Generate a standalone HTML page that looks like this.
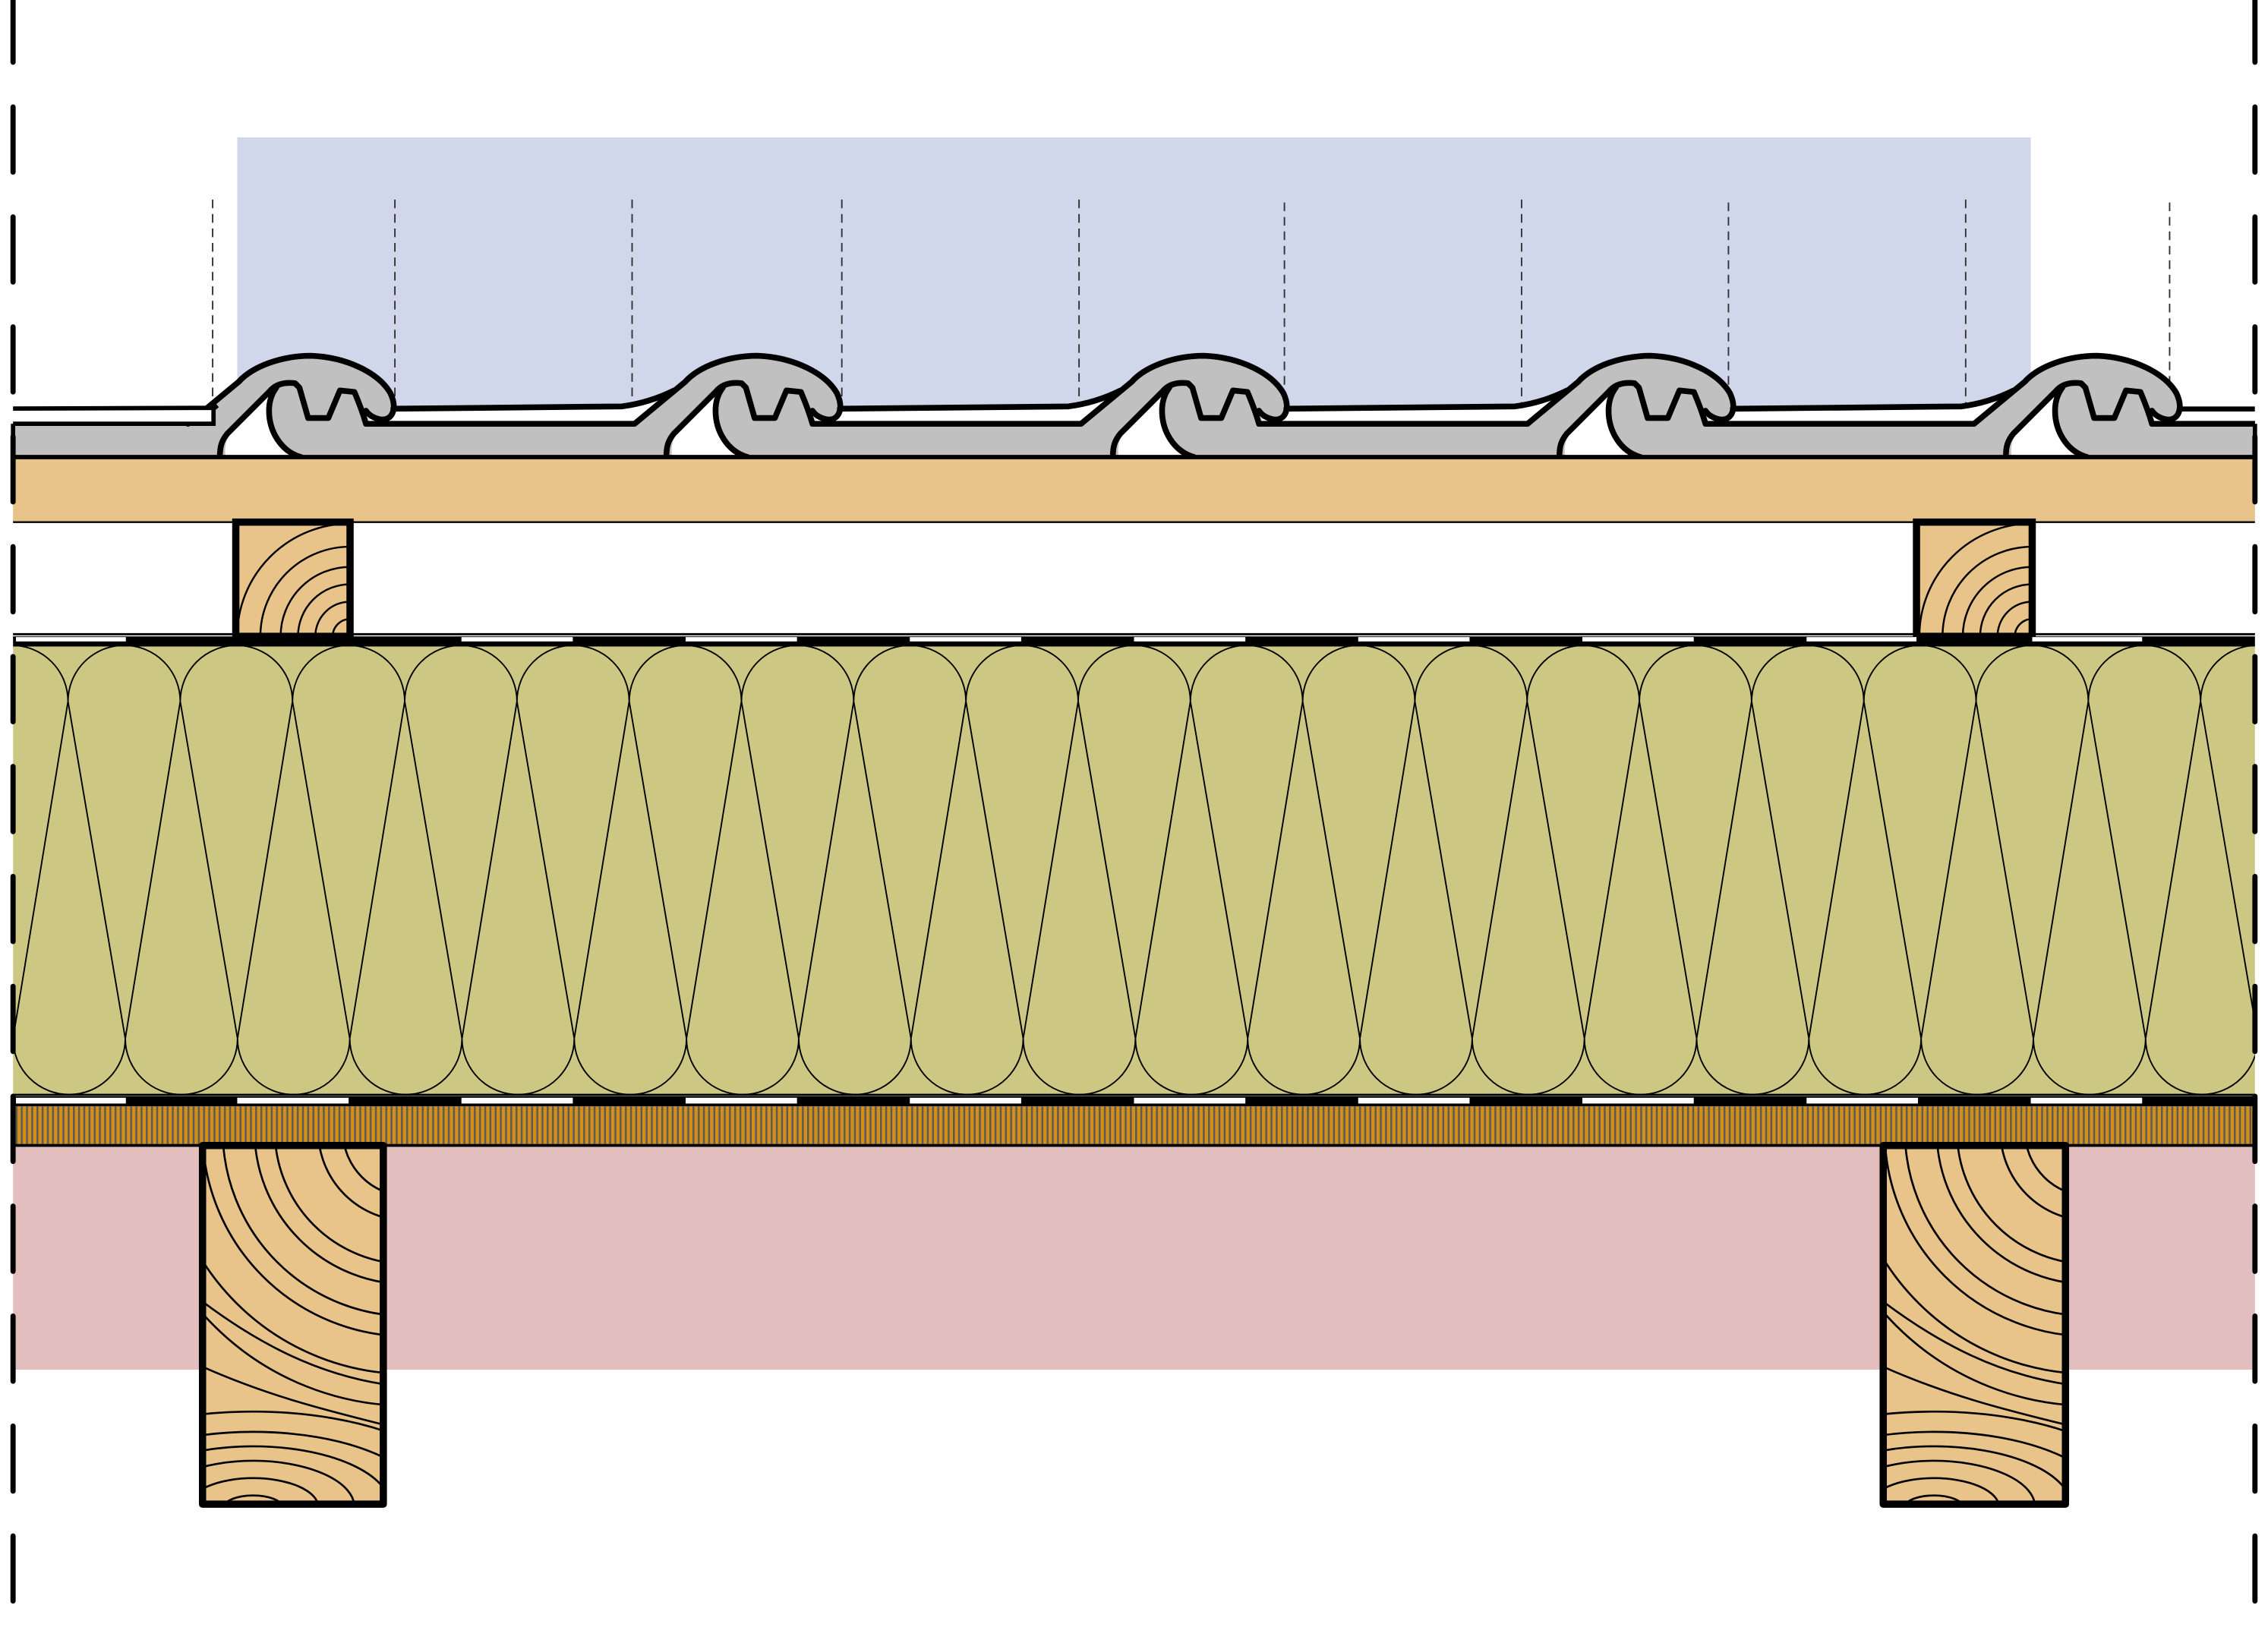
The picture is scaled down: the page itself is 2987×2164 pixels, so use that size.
<!DOCTYPE html>
<html><head><meta charset="utf-8"><style>html,body{margin:0;padding:0;background:#fff}svg{display:block}</style></head>
<body>
<svg xmlns="http://www.w3.org/2000/svg" xmlns:xlink="http://www.w3.org/1999/xlink" width="2987" height="2164" viewBox="0 0 1568 1136">
<defs>
<pattern id="ply" x="0" y="0" width="3.6" height="40" patternUnits="userSpaceOnUse">
<rect width="3.6" height="40" fill="#d38e18"/><rect x="0" width="1.3" height="40" fill="#5a5a5a"/>
</pattern>
<clipPath id="tc"><rect x="0" y="0" width="1559" height="330"/></clipPath>
<clipPath id="cb1"><rect x="163" y="361" width="79" height="79"/></clipPath>
<clipPath id="cb2"><rect x="1325" y="361" width="80" height="79"/></clipPath>
<clipPath id="r1"><rect x="140" y="792" width="125" height="248"/></clipPath>
<clipPath id="r2"><rect x="1302" y="792" width="126" height="248"/></clipPath>
<clipPath id="ins"><rect x="9" y="447" width="1550" height="310"/></clipPath>
<g id="tailWhite"><path d="M262,283 L430,281 C445,279 456,275 466,270 L438.3,293 L253,293 Z" fill="#fff"/></g>
<g id="tileFill">
<path d="M130,293 L165,264 C175,253 195,246 215,246 C240,247 262,258 270,272 C275,283 271,291 263,290 C258,289 255,287 253,284 L253,316 L152,316 L130,316 Z" fill="#c0c0c0"/>
</g>
<g id="tileTri"><path d="M156,316 C155,309 156,304 160,299 L186,272 C184,286 187,302 197,310 C201,313 204,315 208,316 Z" fill="#fff"/></g>
<g id="tileStroke" fill="none" stroke="#000" stroke-width="4" stroke-linejoin="round" stroke-linecap="round">
<path d="M130,293 L165,264 C175,253 195,246 215,246 C240,247 262,258 270,272 C275,283 271,291 263,290 C258,289 255,287 253,284"/>
<path d="M152,316 C152,309 153,305 157,300 L186,271 C190,266 196,264 204,265 L207,268 L213,289 L227,289 L235,270 L245,271 C248,278 251,286 253,293 L438.3,293"/>
<path d="M208,316 C194,312 186,298 186,284 C186,277 188,272 191,268"/>
</g>
<g id="tailStroke"><path d="M271.9,282.6 L430,281 C445,279 456,275 466,270" fill="none" stroke="#000" stroke-width="4" stroke-linecap="round"/></g>
</defs>

<rect x="164" y="95" width="1240" height="200" fill="#d1d7eb"/>
<g stroke="#333" stroke-width="1" stroke-dasharray="6 4">
<line x1="147" y1="138" x2="147" y2="282"/><line x1="273" y1="138" x2="273" y2="282"/>
<line x1="437" y1="138" x2="437" y2="282"/><line x1="582" y1="138" x2="582" y2="282"/>
<line x1="746" y1="138" x2="746" y2="282"/><line x1="888" y1="140" x2="888" y2="282"/>
<line x1="1052" y1="138" x2="1052" y2="282"/><line x1="1195" y1="140" x2="1195" y2="282"/>
<line x1="1359" y1="138" x2="1359" y2="282"/><line x1="1500" y1="140" x2="1500" y2="282"/>
</g>

<g clip-path="url(#tc)">
<rect x="9" y="293" width="1550" height="23" fill="#c0c0c0"/>
<rect x="1506" y="282" width="53" height="11" fill="#fff"/>
<use xlink:href="#tailWhite"/><use xlink:href="#tailWhite" x="308.7"/><use xlink:href="#tailWhite" x="617.4"/><use xlink:href="#tailWhite" x="926.1"/>
<use xlink:href="#tileFill"/><use xlink:href="#tileFill" x="308.7"/><use xlink:href="#tileFill" x="617.4"/><use xlink:href="#tileFill" x="926.1"/><use xlink:href="#tileFill" x="1234.8"/>
<use xlink:href="#tileTri"/><use xlink:href="#tileTri" x="308.7"/><use xlink:href="#tileTri" x="617.4"/><use xlink:href="#tileTri" x="926.1"/><use xlink:href="#tileTri" x="1234.8"/>
<use xlink:href="#tileStroke"/><use xlink:href="#tileStroke" x="308.7"/><use xlink:href="#tileStroke" x="617.4"/><use xlink:href="#tileStroke" x="926.1"/><use xlink:href="#tileStroke" x="1234.8"/>
<use xlink:href="#tailStroke"/><use xlink:href="#tailStroke" x="308.7"/><use xlink:href="#tailStroke" x="617.4"/><use xlink:href="#tailStroke" x="926.1"/>
<path d="M1506,282.8 L1559,282.8" fill="none" stroke="#000" stroke-width="3.5"/>
<line x1="1500" y1="293" x2="1559" y2="293" stroke="#000" stroke-width="3.5"/>
</g>
<rect x="9" y="282" width="138.6" height="11" fill="#fff"/>
<path d="M9,282.5 L147.6,282 L147.6,293 L9,293" fill="none" stroke="#000" stroke-width="3"/>
<path d="M147.6,282 L150,280" stroke="#000" stroke-width="4"/>
<line x1="9" y1="293" x2="9" y2="316" stroke="#000" stroke-width="3"/>
<line x1="1559" y1="293" x2="1559" y2="316" stroke="#000" stroke-width="3"/>

<rect x="9" y="316" width="1550" height="45" fill="#e8c48a"/>
<line x1="9" y1="316" x2="1559" y2="316" stroke="#000" stroke-width="3"/>
<line x1="9" y1="361" x2="1559" y2="361" stroke="#000" stroke-width="1.2"/>

<rect x="163" y="361" width="79" height="79" fill="#e8c48a"/>
<g clip-path="url(#cb1)" fill="none" stroke="#000" stroke-width="1.3">
<circle cx="242" cy="440" r="12"/><circle cx="242" cy="440" r="24"/><circle cx="242" cy="440" r="36"/><circle cx="242" cy="440" r="48"/><circle cx="242" cy="440" r="62"/><circle cx="242" cy="440" r="78"/>
</g>
<rect x="163" y="361" width="79" height="79" fill="none" stroke="#000" stroke-width="5"/>
<rect x="1325" y="361" width="80" height="79" fill="#e8c48a"/>
<g clip-path="url(#cb2)" fill="none" stroke="#000" stroke-width="1.3">
<circle cx="1405" cy="440" r="12"/><circle cx="1405" cy="440" r="24"/><circle cx="1405" cy="440" r="36"/><circle cx="1405" cy="440" r="48"/><circle cx="1405" cy="440" r="62"/><circle cx="1405" cy="440" r="78"/>
</g>
<rect x="1325" y="361" width="80" height="79" fill="none" stroke="#000" stroke-width="5"/>

<line x1="9" y1="438.5" x2="1559" y2="438.5" stroke="#000" stroke-width="1.5"/>
<rect x="9" y="440" width="1550" height="7" fill="#000"/>
<g fill="#fff">
<rect x="11" y="440.5" width="76" height="3"/><rect x="319" y="440.5" width="77" height="3"/><rect x="474" y="440.5" width="77" height="3"/><rect x="629" y="440.5" width="77" height="3"/><rect x="784" y="440.5" width="77" height="3"/><rect x="939" y="440.5" width="77" height="3"/><rect x="1094" y="440.5" width="77" height="3"/><rect x="1249" y="440.5" width="76" height="3"/><rect x="1405" y="440.5" width="76" height="3"/>
</g>

<rect x="9" y="447" width="1550" height="310" fill="#ccc884"/>
<g clip-path="url(#ins)" fill="none" stroke="#000" stroke-width="1">
<path d="M-30.6,485 A38.8,38.8 0 0 1 47,485 A38.8,38.8 0 0 1 124.6,485 A38.8,38.8 0 0 1 202.2,485 A38.8,38.8 0 0 1 279.8,485 A38.8,38.8 0 0 1 357.4,485 A38.8,38.8 0 0 1 435,485 A38.8,38.8 0 0 1 512.6,485 A38.8,38.8 0 0 1 590.2,485 A38.8,38.8 0 0 1 667.8,485 A38.8,38.8 0 0 1 745.4,485 A38.8,38.8 0 0 1 823,485 A38.8,38.8 0 0 1 900.6,485 A38.8,38.8 0 0 1 978.2,485 A38.8,38.8 0 0 1 1055.8,485 A38.8,38.8 0 0 1 1133.4,485 A38.8,38.8 0 0 1 1211,485 A38.8,38.8 0 0 1 1288.6,485 A38.8,38.8 0 0 1 1366.2,485 A38.8,38.8 0 0 1 1443.8,485 A38.8,38.8 0 0 1 1521.4,485 A38.8,38.8 0 0 1 1599,485"/>
<path d="M9,718 A38.8,38.8 0 0 0 86.6,718 A38.8,38.8 0 0 0 164.2,718 A38.8,38.8 0 0 0 241.8,718 A38.8,38.8 0 0 0 319.4,718 A38.8,38.8 0 0 0 397,718 A38.8,38.8 0 0 0 474.6,718 A38.8,38.8 0 0 0 552.2,718 A38.8,38.8 0 0 0 629.8,718 A38.8,38.8 0 0 0 707.4,718 A38.8,38.8 0 0 0 785,718 A38.8,38.8 0 0 0 862.6,718 A38.8,38.8 0 0 0 940.2,718 A38.8,38.8 0 0 0 1017.8,718 A38.8,38.8 0 0 0 1095.4,718 A38.8,38.8 0 0 0 1173,718 A38.8,38.8 0 0 0 1250.6,718 A38.8,38.8 0 0 0 1328.2,718 A38.8,38.8 0 0 0 1405.8,718 A38.8,38.8 0 0 0 1483.4,718 A38.8,38.8 0 0 0 1561,718"/>
<path d="M-30.6,485 L-68.6,718 M-30.6,485 L9,718 L47,485 L86.6,718 L124.6,485 L164.2,718 L202.2,485 L241.8,718 L279.8,485 L319.4,718 L357.4,485 L397,718 L435,485 L474.6,718 L512.6,485 L552.2,718 L590.2,485 L629.8,718 L667.8,485 L707.4,718 L745.4,485 L785,718 L823,485 L862.6,718 L900.6,485 L940.2,718 L978.2,485 L1017.8,718 L1055.8,485 L1095.4,718 L1133.4,485 L1173,718 L1211,485 L1250.6,718 L1288.6,485 L1328.2,718 L1366.2,485 L1405.8,718 L1443.8,485 L1483.4,718 L1521.4,485 L1561,718 L1599,485"/>
</g>

<line x1="9" y1="757" x2="1559" y2="757" stroke="#000" stroke-width="1.5"/>
<rect x="9" y="758" width="1550" height="7" fill="#000"/>
<g fill="#fff">
<rect x="11" y="759" width="76" height="4"/><rect x="164" y="759" width="77" height="4"/><rect x="319" y="759" width="77" height="4"/><rect x="474" y="759" width="77" height="4"/><rect x="629" y="759" width="77" height="4"/><rect x="784" y="759" width="77" height="4"/><rect x="939" y="759" width="77" height="4"/><rect x="1094" y="759" width="77" height="4"/><rect x="1249" y="759" width="77" height="4"/><rect x="1404" y="759" width="77" height="4"/>
</g>

<rect x="9" y="765" width="1550" height="27" fill="url(#ply)"/>
<line x1="9" y1="792" x2="1559" y2="792" stroke="#000" stroke-width="2"/>
<line x1="9" y1="765" x2="9" y2="792" stroke="#000" stroke-width="2"/>

<rect x="9" y="793" width="1550" height="154" fill="#e3bebe"/>

<g>
<rect x="140" y="792" width="125" height="248" fill="#e8c48a"/>
<g clip-path="url(#r1)" fill="none" stroke="#000" stroke-width="1.4">
<circle cx="282" cy="782" r="45"/><circle cx="282" cy="782" r="62"/><circle cx="282" cy="782" r="92"/><circle cx="282" cy="782" r="106"/><circle cx="282" cy="782" r="128"/><circle cx="282" cy="782" r="142"/><circle cx="282" cy="782" r="168"/><circle cx="282" cy="782" r="190"/>
<path d="M140,945 C185,965 225,975 265,985"/>
<path d="M140,900 C180,930 220,950 265,957"/>
<ellipse cx="175" cy="1042" rx="20" ry="8"/><ellipse cx="175" cy="1042" rx="45" ry="20"/><ellipse cx="175" cy="1042" rx="70" ry="32"/><ellipse cx="175" cy="1042" rx="95" ry="42"/><ellipse cx="175" cy="1042" rx="120" ry="52"/><ellipse cx="175" cy="1042" rx="150" ry="66"/>
</g>
<rect x="140" y="792" width="125" height="248" fill="none" stroke="#000" stroke-width="5" stroke-linejoin="round"/>
</g>
<g>
<rect x="1302" y="792" width="126" height="248" fill="#e8c48a"/>
<g clip-path="url(#r2)" fill="none" stroke="#000" stroke-width="1.4">
<circle cx="1445" cy="782" r="45"/><circle cx="1445" cy="782" r="62"/><circle cx="1445" cy="782" r="92"/><circle cx="1445" cy="782" r="106"/><circle cx="1445" cy="782" r="128"/><circle cx="1445" cy="782" r="142"/><circle cx="1445" cy="782" r="168"/><circle cx="1445" cy="782" r="190"/>
<path d="M1302,945 C1347,965 1387,975 1428,985"/>
<path d="M1302,900 C1342,930 1382,950 1428,957"/>
<ellipse cx="1337" cy="1042" rx="20" ry="8"/><ellipse cx="1337" cy="1042" rx="45" ry="20"/><ellipse cx="1337" cy="1042" rx="70" ry="32"/><ellipse cx="1337" cy="1042" rx="95" ry="42"/><ellipse cx="1337" cy="1042" rx="120" ry="52"/><ellipse cx="1337" cy="1042" rx="150" ry="66"/>
</g>
<rect x="1302" y="792" width="126" height="248" fill="none" stroke="#000" stroke-width="5" stroke-linejoin="round"/>
</g>

<g stroke="#000" stroke-width="3.6" stroke-dasharray="45 31" stroke-dashoffset="2" stroke-linecap="round">
<line x1="9" y1="0" x2="9" y2="1136"/>
<line x1="1559" y1="0" x2="1559" y2="1136"/>
</g>
</svg>
</body></html>
